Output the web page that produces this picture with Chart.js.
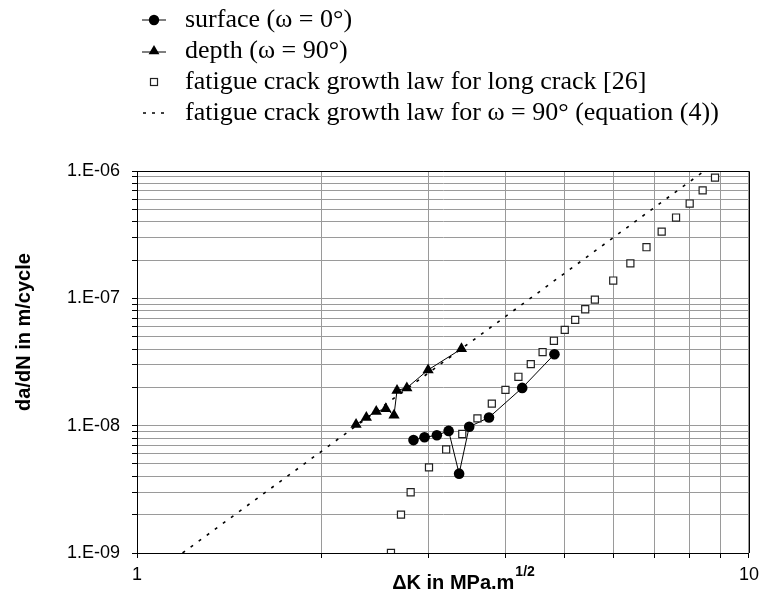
<!DOCTYPE html>
<html>
<head>
<meta charset="utf-8">
<script src="https://cdn.jsdelivr.net/npm/chart.js@4.4.0/dist/chart.umd.min.js"></script>
<style>
  body { margin: 0; background: #fff; }
  #wrap { width: 765px; height: 595px; }
</style>
</head>
<body>
<div id="wrap"><canvas id="crackChart" width="765" height="595"></canvas></div>
<script>
// surface (omega = 0)
var surfaceK = [2.83, 2.95, 3.09, 3.23, 3.36, 3.49, 3.76, 4.26, 4.81];
var surfaceRate = [7.7e-9, 8.1e-9, 8.4e-9, 9.1e-9, 4.2e-9, 9.8e-9, 1.16e-8, 1.98e-8, 3.64e-8];

// depth (omega = 90)
var depthK = [2.28, 2.37, 2.46, 2.55, 2.63, 2.66, 2.76, 2.99, 3.39];
var depthRate = [1.02e-8, 1.16e-8, 1.29e-8, 1.36e-8, 1.21e-8, 1.89e-8, 1.98e-8, 2.74e-8, 4.01e-8];

// long crack law [26]
var longK = [2.6, 2.7, 2.8, 3.0, 3.2, 3.4, 3.6, 3.8, 4.0, 4.2, 4.4, 4.6, 4.8, 5.0, 5.2, 5.4, 5.6, 6.0, 6.4, 6.8, 7.2, 7.6, 8.0, 8.4, 8.8];
var longRate = [1.0e-9, 2.0e-9, 3.0e-9, 4.7e-9, 6.5e-9, 8.6e-9, 1.14e-8, 1.49e-8, 1.91e-8, 2.42e-8, 3.04e-8, 3.78e-8, 4.64e-8, 5.65e-8, 6.78e-8, 8.21e-8, 9.78e-8, 1.38e-7, 1.88e-7, 2.52e-7, 3.34e-7, 4.31e-7, 5.55e-7, 7.05e-7, 8.87e-7];

// equation (4) line, end points
var lawK = [1.187, 8.45];
var lawRate = [1e-9, 1e-6];

var xTicks = [1, 2, 3, 4, 5, 6, 7, 8, 9, 10];
var xTickLabels = ['1', '', '', '', '', '', '', '', '', '10'];
var yDecades = [-9, -8, -7, -6];
var yTickLabels = ['1.E-09', '1.E-08', '1.E-07', '1.E-06'];
var yMantissa = [1, 2, 3, 4, 5, 6, 7, 8, 9];

var legendLabels = [
    'surface (\u03c9 = 0\u00b0)',
    'depth (\u03c9 = 90\u00b0)',
    'fatigue crack growth law for long crack [26]',
    'fatigue crack growth law for \u03c9 = 90\u00b0 (equation (4))'
];

function pairs(xs, ys) {
    return xs.map(function(x, i) { return {x: x, y: ys[i]}; });
}

var yTickValues = [];
yDecades.forEach(function(e, i) {
    if (i == yDecades.length - 1) {
        yTickValues.push(Math.pow(10, e));
        return;
    }
    yMantissa.forEach(function(m) { yTickValues.push(m * Math.pow(10, e)); });
});

var framePlugin = {
    id: 'frame',
    afterDraw: function(chart) {
        var ctx = chart.ctx;
        var a = chart.chartArea;
        ctx.save();
        ctx.strokeStyle = '#000';
        ctx.lineWidth = 1;
        ctx.beginPath();
        ctx.moveTo(a.left, a.top + 0.5);
        ctx.lineTo(a.right + 0.5, a.top + 0.5);
        ctx.lineTo(a.right + 0.5, a.bottom);
        ctx.stroke();

        // axis titles
        ctx.fillStyle = '#000';
        ctx.font = 'bold 20px "Liberation Sans", Arial, sans-serif';
        ctx.save();
        ctx.translate(24, 332);
        ctx.rotate(-Math.PI / 2);
        ctx.textAlign = 'center';
        ctx.textBaseline = 'middle';
        ctx.fillText('da/dN in m/cycle', 0, 0);
        ctx.restore();

        ctx.font = 'bold 20px "Liberation Sans", Arial, sans-serif';
        ctx.textAlign = 'left';
        ctx.textBaseline = 'alphabetic';
        var main = '\u0394K in MPa.m';
        var w1 = ctx.measureText(main).width;
        ctx.font = 'bold 14px "Liberation Sans", Arial, sans-serif';
        var w2 = ctx.measureText('1/2').width;
        var x0 = 463 - (w1 + w2) / 2;
        ctx.font = 'bold 20px "Liberation Sans", Arial, sans-serif';
        ctx.fillText(main, x0, 589);
        ctx.font = 'bold 14px "Liberation Sans", Arial, sans-serif';
        ctx.fillText('1/2', x0 + w1 + 1, 576);

        // legend
        var rows = [20, 51, 82, 113];
        ctx.font = '26px "Liberation Serif", "Times New Roman", serif';
        ctx.textBaseline = 'middle';
        legendLabels.forEach(function(t, i) {
            ctx.fillText(t, 185, rows[i]);
        });
        var mx = 154;
        ctx.strokeStyle = '#000';
        ctx.lineWidth = 1;
        // circle
        ctx.beginPath();
        ctx.moveTo(142, rows[0]); ctx.lineTo(166, rows[0]); ctx.stroke();
        ctx.beginPath(); ctx.arc(mx, rows[0], 5.2, 0, Math.PI * 2); ctx.fill();
        // triangle
        ctx.beginPath();
        ctx.moveTo(142, rows[1] + 1); ctx.lineTo(166, rows[1] + 1); ctx.stroke();
        ctx.beginPath();
        ctx.moveTo(mx, rows[1] - 6);
        ctx.lineTo(mx + 5.4, rows[1] + 3.2);
        ctx.lineTo(mx - 5.4, rows[1] + 3.2);
        ctx.closePath(); ctx.fill();
        // square
        ctx.strokeStyle = '#222';
        ctx.lineWidth = 1.2;
        ctx.strokeRect(mx - 3.5, rows[2] - 3.5, 7, 7);
        // dotted
        ctx.strokeStyle = '#000';
        ctx.lineWidth = 1.6;
        ctx.setLineDash([3, 6]);
        ctx.beginPath(); ctx.moveTo(143, rows[3]); ctx.lineTo(168, rows[3]); ctx.stroke();
        ctx.restore();
    }
};

var ctx = document.getElementById('crackChart').getContext('2d');
new Chart(ctx, {
    type: 'scatter',
    data: {
        datasets: [{
            label: legendLabels[3],
            data: pairs(lawK, lawRate),
            showLine: true,
            borderColor: '#000',
            borderWidth: 1.6,
            borderDash: [3, 7],
            pointRadius: 0
        }, {
            label: legendLabels[2],
            data: pairs(longK, longRate),
            showLine: false,
            pointStyle: 'rect',
            pointRadius: 5,
            pointBorderWidth: 1.2,
            pointBorderColor: '#222',
            pointBackgroundColor: '#fff'
        }, {
            label: legendLabels[0],
            data: pairs(surfaceK, surfaceRate),
            showLine: true,
            borderColor: '#000',
            borderWidth: 1,
            pointStyle: 'circle',
            pointRadius: 5.3,
            pointBorderWidth: 0,
            pointBackgroundColor: '#000'
        }, {
            label: legendLabels[1],
            data: pairs(depthK, depthRate),
            showLine: true,
            borderColor: '#000',
            borderWidth: 1,
            pointStyle: 'triangle',
            pointRadius: 6.5,
            pointBorderWidth: 0,
            pointBackgroundColor: '#000'
        }]
    },
    options: {
        responsive: false,
        animation: false,
        devicePixelRatio: 1,
        layout: { padding: { top: 171, right: 11, left: 0, bottom: 0 } },
        plugins: {
            legend: { display: false },
            tooltip: { enabled: false }
        },
        scales: {
            x: {
                type: 'logarithmic',
                min: 1,
                max: 10,
                afterBuildTicks: function(scale) {
                    scale.ticks = xTicks.map(function(v) { return {value: v}; });
                },
                afterFit: function(scale) { scale.height = 42; },
                ticks: {
                    autoSkip: false,
                    maxRotation: 0,
                    padding: 6,
                    color: '#000',
                    font: { family: '"Liberation Sans", Arial, sans-serif', size: 18 },
                    callback: function(value, index) { return xTickLabels[index]; }
                },
                grid: { color: '#9a9a9a', lineWidth: 1, tickLength: 5, tickColor: '#000' },
                border: { color: '#000', width: 1 }
            },
            y: {
                type: 'logarithmic',
                min: 1e-9,
                max: 1e-6,
                afterBuildTicks: function(scale) {
                    scale.ticks = yTickValues.map(function(v) { return {value: v}; });
                },
                afterFit: function(scale) { scale.width = 137; },
                ticks: {
                    autoSkip: false,
                    padding: 12,
                    color: '#000',
                    font: { family: '"Liberation Sans", Arial, sans-serif', size: 18 },
                    callback: function(value) {
                        var e = Math.round(Math.log10(value));
                        if (Math.abs(value - Math.pow(10, e)) / value > 1e-6) return '';
                        return yTickLabels[yDecades.indexOf(e)];
                    }
                },
                grid: { color: '#9a9a9a', lineWidth: 1, tickLength: 5, tickColor: '#000' },
                border: { color: '#000', width: 1 }
            }
        }
    },
    plugins: [framePlugin]
});
</script>
</body>
</html>
